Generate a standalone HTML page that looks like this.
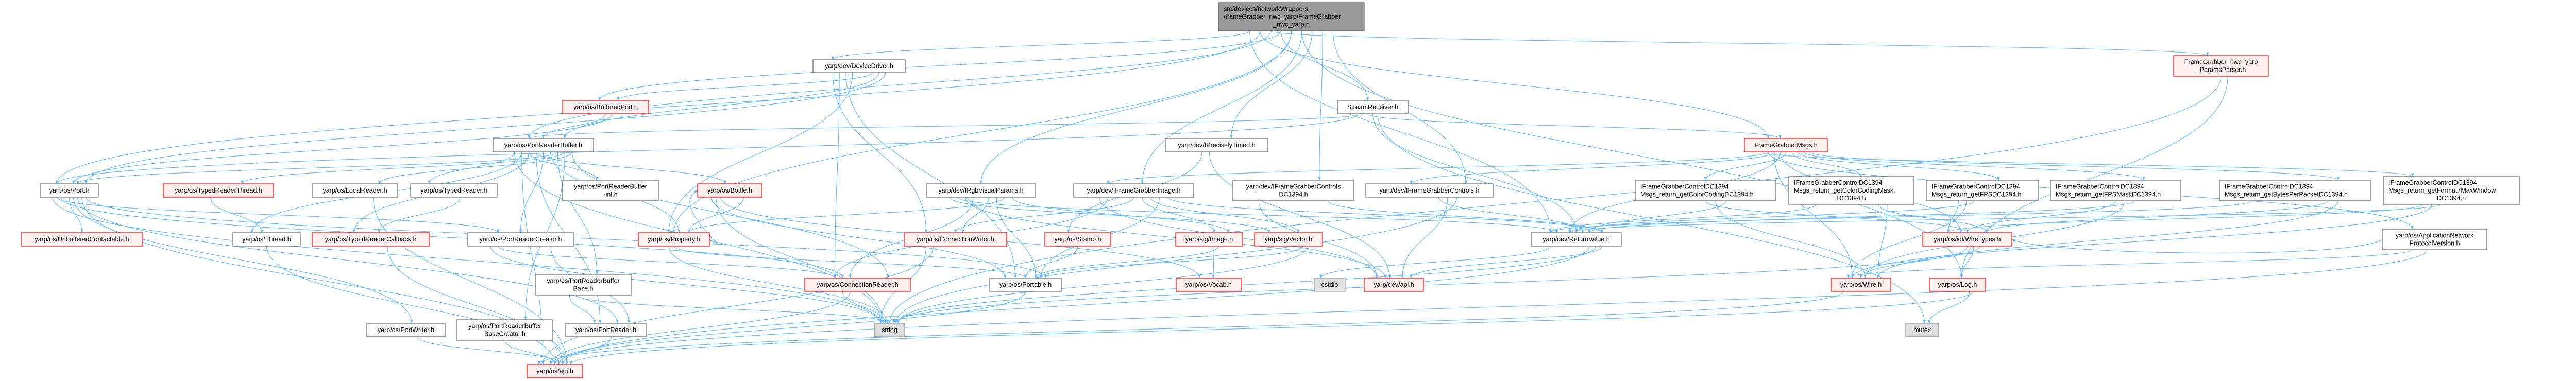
<!DOCTYPE html>
<html><head><meta charset="utf-8">
<style>
html,body{margin:0;padding:0;background:#fff;}
svg{display:block;}
text{font-family:"Liberation Sans","DejaVu Sans",sans-serif;font-size:12.5px;fill:#000;}
</style></head>
<body>
<svg id="g" xmlns="http://www.w3.org/2000/svg" width="5034" height="740" viewBox="0 0 5034 740">
<defs>
<marker id="ah" viewBox="0 0 10 10" refX="9" refY="5" markerWidth="7" markerHeight="7" orient="auto" markerUnits="userSpaceOnUse">
<path d="M0,1 L10,5 L0,9 z" fill="#63b8ff"/>
</marker>
</defs>
<g id="edges" fill="none" stroke="#63b8ff" stroke-width="1.1"></g>
<g id="nodes"></g>
</svg>
<script>
(function(){
var N={
main:[2365,2648,5,60,'m',['src/devices/networkWrappers','/frameGrabber_nwc_yarp/FrameGrabber','_nwc_yarp.h']],
dd:[1578,1757,116,141,'w',['yarp/dev/DeviceDriver.h']],
pp:[4219,4403,108,148,'r',['FrameGrabber_nwc_yarp','_ParamsParser.h']],
bp:[1092,1259,195,221,'r',['yarp/os/BufferedPort.h']],
sr:[2596,2733,195,221,'w',['StreamReceiver.h']],
prb:[957,1152,269,295,'w',['yarp/os/PortReaderBuffer.h']],
ipt:[2262,2461,269,295,'w',['yarp/dev/IPreciselyTimed.h']],
fgm:[3386,3547,269,295,'r',['FrameGrabberMsgs.h']],
port:[78,191,357,383,'w',['yarp/os/Port.h']],
trt:[317,531,357,383,'r',['yarp/os/TypedReaderThread.h']],
lr:[606,772,357,383,'w',['yarp/os/LocalReader.h']],
tr:[797,965,357,383,'w',['yarp/os/TypedReader.h']],
inl:[1092,1278,350,390,'w',['yarp/os/PortReaderBuffer','-inl.h']],
bot:[1354,1479,357,383,'r',['yarp/os/Bottle.h']],
rgb:[1798,2010,357,383,'w',['yarp/dev/IRgbVisualParams.h']],
fgi:[2084,2317,357,383,'w',['yarp/dev/IFrameGrabberImage.h']],
fgcd:[2393,2628,350,390,'w',['yarp/dev/IFrameGrabberControls','DC1394.h']],
fgc:[2651,2898,357,383,'w',['yarp/dev/IFrameGrabberControls.h']],
m1:[3174,3447,350,390,'wl',['IFrameGrabberControlDC1394','Msgs_return_getColorCodingDC1394.h']],
m2:[3472,3715,343,397,'wl',['IFrameGrabberControlDC1394','Msgs_return_getColorCodingMask','DC1394.h']],
m3:[3739,3957,350,390,'wl',['IFrameGrabberControlDC1394','Msgs_return_getFPSDC1394.h']],
m4:[3980,4233,350,390,'wl',['IFrameGrabberControlDC1394','Msgs_return_getFPSMaskDC1394.h']],
m5:[4308,4601,350,390,'wl',['IFrameGrabberControlDC1394','Msgs_return_getBytesPerPacketDC1394.h']],
m6:[4626,4890,343,397,'wl',['IFrameGrabberControlDC1394','Msgs_return_getFormat7MaxWindow','DC1394.h']],
unb:[41,277,452,478,'r',['yarp/os/UnbufferedContactable.h']],
thr:[452,583,452,478,'w',['yarp/os/Thread.h']],
trc:[606,833,452,478,'r',['yarp/os/TypedReaderCallback.h']],
prc:[908,1113,452,478,'w',['yarp/os/PortReaderCreator.h']],
prop:[1239,1377,452,478,'r',['yarp/os/Property.h']],
cw:[1755,1954,452,478,'r',['yarp/os/ConnectionWriter.h']],
stamp:[2028,2156,452,478,'r',['yarp/os/Stamp.h']],
img:[2282,2412,452,478,'r',['yarp/sig/Image.h']],
vec:[2435,2567,452,478,'r',['yarp/sig/Vector.h']],
rv:[2972,3147,452,478,'w',['yarp/dev/ReturnValue.h']],
wt:[3732,3905,452,478,'r',['yarp/os/idl/WireTypes.h']],
anp:[4624,4827,445,485,'w',['yarp/os/ApplicationNetwork','ProtocolVersion.h']],
prbb:[1039,1225,533,573,'w',['yarp/os/PortReaderBuffer','Base.h']],
cr:[1562,1767,540,566,'r',['yarp/os/ConnectionReader.h']],
por:[1921,2060,540,566,'w',['yarp/os/Portable.h']],
voc:[2283,2409,540,566,'r',['yarp/os/Vocab.h']],
cstd:[2551,2611,540,566,'g',['cstdio']],
dapi:[2648,2763,540,566,'r',['yarp/dev/api.h']],
wire:[3554,3670,540,566,'r',['yarp/os/Wire.h']],
log:[3745,3854,540,566,'r',['yarp/os/Log.h']],
pw:[712,864,628,654,'w',['yarp/os/PortWriter.h']],
prbbc:[887,1073,621,661,'w',['yarp/os/PortReaderBuffer','BaseCreator.h']],
prd:[1098,1254,628,654,'w',['yarp/os/PortReader.h']],
str:[1697,1756,628,654,'g',['string']],
mtx:[3699,3763,628,654,'g',['mutex']],
api:[1023,1131,708,734,'r',['yarp/os/api.h']]
};
var E=[
'main dd','main port','main prb','main sr','main rgb','main fgi','main ipt','main fgcd','main fgc','main rv','main fgm','main pp','main bp','main prop','main log',
'dd bp','dd prb','dd port','dd cw','dd cr','dd por','dd prop',
'bp prb','bp port',
'prb port','prb trt','prb lr','prb tr','prb thr','prb inl','prb bot','prb prc','prb prop','prb prbb','prb prbbc','prb cr','prb str','prb api','prb trc','prb prd',
'port unb','port pw','port prd','port api','port por','port str','port prc','port cr',
'trt thr','thr api','tr trc','trc api','lr api',
'prc prd','prc str','prc cr','prbb prd','prbb str','prbbc api','prd api','pw api',
'bot prop','prop bot','bot por','bot str','bot voc','prop str','prop por',
'rgb cw','rgb por','rgb prop','rgb img','rgb vec','rgb rv','rgb dapi','rgb cr',
'fgi cw','fgi img','fgi vec','fgi por','fgi rv','fgi dapi','fgi cr',
'ipt stamp','ipt dapi','stamp por','img voc','img por','vec por','vec str',
'cw str','cw api','cr str','cr api','por api',
'fgc rv','fgc dapi','fgc str','fgcd rv','fgcd dapi',
'sr port','sr prb','sr fgm','sr rv','sr mtx',
'rv api','rv str','rv dapi','rv cstd',
'fgm fgi','fgm fgc','fgm rv','fgm m1','fgm m2','fgm m3','fgm m4','fgm m5','fgm m6','fgm anp','fgm wire','fgm wt',
'm1 wt','m1 wire','m1 rv','m2 wt','m2 wire','m2 rv','m3 wt','m3 wire','m3 rv','m4 wt','m4 wire','m4 rv','m5 wt','m5 wire','m5 rv','m6 wt','m6 wire','m6 rv',
'wt wire','wt log','wt str','log mtx','log api','wire api','anp wire','anp wt','anp api','pp str','pp log'
];
var ns='http://www.w3.org/2000/svg';
var eg=document.getElementById('edges'),ng=document.getElementById('nodes');
function cx(n){return (n[0]+n[1])/2;}
E.forEach(function(s,i){
 var p=s.split(' '),a=N[p[0]],b=N[p[1]];
 var w1=a[1]-a[0],w2=b[1]-b[0];
 var off=((i*37)%9-4);
 var x1=cx(a)+off*w1/14,y1=a[3],x2=cx(b)+off*w2/14,y2=b[2];
 var d;
 if(b[2]>a[3]+5){
  var dy=y2-y1;
  d='M'+x1+','+y1+' C'+x1+','+(y1+dy*0.5)+' '+x2+','+(y2-dy*0.5)+' '+x2+','+y2;
 } else {
  var toRight=cx(b)>cx(a);
  x1=toRight?a[1]:a[0]; y1=(a[2]+a[3])/2;
  x2=toRight?b[0]:b[1]; y2=(b[2]+b[3])/2;
  d='M'+x1+','+y1+' C'+(x1+(toRight?60:-60))+','+(y1+40)+' '+(x2+(toRight?-60:60))+','+(y2+30)+' '+x2+','+y2;
 }
 var pa=document.createElementNS(ns,'path');
 pa.setAttribute('d',d);pa.setAttribute('marker-end','url(#ah)');
 eg.appendChild(pa);
});
Object.keys(N).forEach(function(k){
 var n=N[k],r=document.createElementNS(ns,'rect');
 r.setAttribute('x',n[0]);r.setAttribute('y',n[2]);
 r.setAttribute('width',n[1]-n[0]);r.setAttribute('height',n[3]-n[2]);
 var t=n[4],fill='#fff',st='#666';
 if(t=='m'){fill='#999';st='#666';}
 if(t=='r'){fill='#fff0f0';st='#ff0000';}
 if(t=='g'){fill='#e0e0e0';st='#999';}
 r.setAttribute('fill',fill);r.setAttribute('stroke',st);r.setAttribute('stroke-width','1.2');
 ng.appendChild(r);
 var L=n[5],lh=15,h=n[3]-n[2],ty=n[2]+(h-L.length*lh)/2+11.5;
 L.forEach(function(line,j){
  var tx=document.createElementNS(ns,'text');
  var left=(t=='m'||t=='wl')&&j<L.length-1;
  if(t=='wl'&&L.length==2) left=true;
  if(left){tx.setAttribute('x',n[0]+10);}
  else{tx.setAttribute('x',cx(n));tx.setAttribute('text-anchor','middle');}
  tx.setAttribute('y',ty+j*lh);
  tx.textContent=line;
  ng.appendChild(tx);
 });
});
})();
</script>
</body></html>
